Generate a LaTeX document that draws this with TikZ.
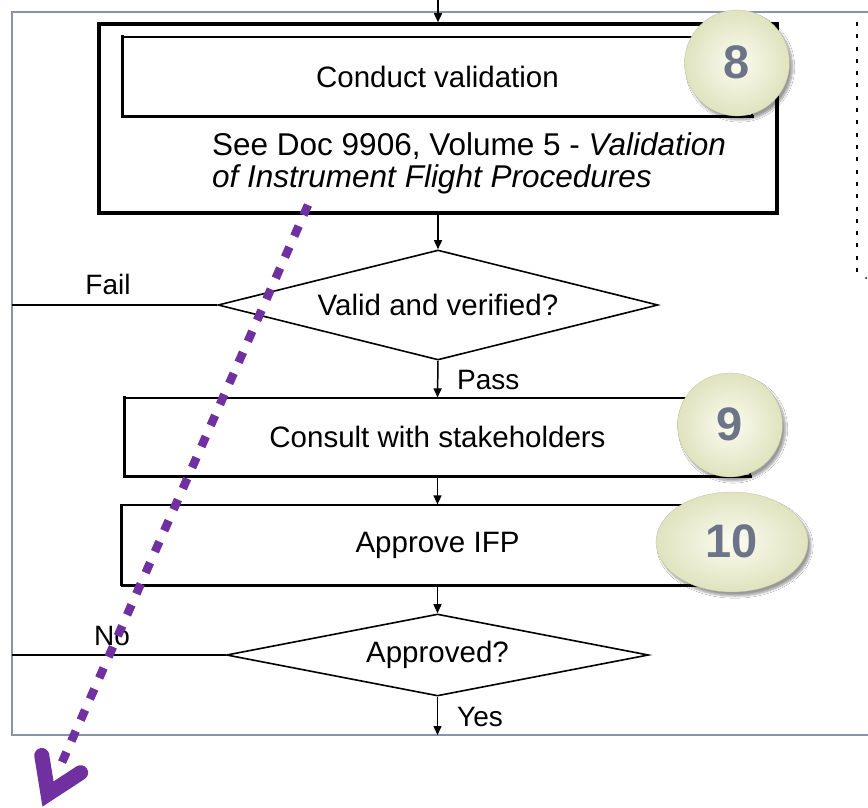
\documentclass[tikz,border=0pt]{standalone}
\usepackage{fontspec}
\setmainfont{Liberation Sans}
\usetikzlibrary{arrows.meta,calc,shapes.geometric,shadows.blur}
\definecolor{framegray}{HTML}{8A92A6}
\definecolor{ifppurple}{HTML}{7030A0}
\definecolor{ballin}{HTML}{FBFCF1}
\definecolor{ballout}{HTML}{DFE3BE}
\definecolor{numgray}{HTML}{6D7488}
\newcommand{\mainsize}{\fontsize{29.5}{33}\selectfont}
\newcommand{\labsize}{\fontsize{28}{32}\selectfont}
\begin{document}
\begin{tikzpicture}[x=1pt,y=-1pt,
  flow/.style={line width=1.5pt,-{Triangle[length=9pt,width=8pt]}},
  plainline/.style={line width=1.5pt},
  stepbox/.style={draw,line width=1.2pt,rectangle,inner sep=0pt,font=\mainsize},
  boxshade/.style={line width=3.5pt,line cap=rect},
  decision/.style={draw,diamond,line width=1.6pt,inner sep=0pt,aspect=4,font=\mainsize},
  lab/.style={font=\labsize,inner sep=0pt},
  numball/.style={ellipse,inner sep=0pt,inner color=ballin,outer color=ballout,
    draw=ballout!85!black,line width=0.3pt,
    blur shadow={shadow xshift=3pt,shadow yshift=-4pt,shadow blur steps=10,shadow opacity=40},
    text=numgray,font=\fontsize{47}{47}\bfseries\selectfont},
  ifparrow/.style={ifppurple,line width=8.5pt,dash pattern=on 11pt off 12pt},
]
\useasboundingbox (0,0) rectangle (868,808);
\clip (0,0) rectangle (868,808);
\fill[white] (0,0) rectangle (868,808);

% surrounding frame (runs past the right edge)
\draw[framegray,line width=2pt] (12,12) rectangle (900,735);

% dotted boundary of the neighbouring column
\draw[line width=2.5pt,dash pattern=on 4pt off 8.3pt] (857,22) -- (857,276);
\fill (866,278) circle (1pt);

% step 8: validation
\node[draw,line width=3.5pt,minimum width=678pt,minimum height=189pt,inner sep=0pt] (valbox) at (438,118.5) {};
\node[stepbox,minimum width=629pt,minimum height=79pt] (conduct) at (437.5,76.5) {Conduct validation};
\draw[boxshade] (conduct.north west) -- (conduct.south west) -- (conduct.south east);
\node[anchor=west,align=left,inner sep=0pt,font=\fontsize{31.5}{32}\selectfont] (docref) at (212,163)
  {See Doc 9906, Volume 5 - \textit{Validation}\\\textit{of Instrument Flight Procedures}};

\coordinate (entry) at (438,0);
\draw[flow] (entry) -- (valbox.north);

% validity check
\node[decision,minimum width=440pt,minimum height=110pt] (valid) at (438,305) {Valid and verified?};
\draw[flow] (valbox.south) -- (valid.north);
\coordinate (failend) at (12,305);
\draw[plainline] (valid.west) -- (failend);
\node[lab] (faillab) at (108,284) {Fail};

% step 9: consultation
\node[stepbox,minimum width=625pt,minimum height=78pt] (consult) at (437.5,437) {Consult with stakeholders};
\draw[boxshade] (consult.north west) -- (consult.south west) -- (consult.south east);
\draw[flow] (valid.south) -- (consult.north);
\node[lab,anchor=west] (passlab) at (457,380) {Pass};

% step 10: approval
\node[stepbox,minimum width=631pt,minimum height=80pt] (approve) at (437.5,545) {Approve IFP};
\draw[line width=3.5pt] (approve.north west) -- (approve.south west);
\draw[line width=2pt] (approve.south west) -- (approve.south east);
\draw[flow] (consult.south) -- (approve.north);

% approval decision
\node[decision,minimum width=422pt,minimum height=82pt] (approved) at (437.5,655) {Approved?};
\draw[flow] (approve.south) -- (approved.north);
\coordinate (noend) at (12,655);
\draw[plainline] (approved.west) -- (noend);
\node[lab] (nolab) at (112,636) {No};
\coordinate (yesend) at (437.5,735);
\draw[flow] (approved.south) -- (yesend);
\node[lab,anchor=west] (yeslab) at (457,717) {Yes};

% step numbers
\node[numball,minimum width=105pt,minimum height=106pt] (n8) at (737,63) {\raisebox{2pt}{8}};
\node[numball,minimum width=105pt,minimum height=104pt] (n9) at (730,425) {\raisebox{2pt}{9}};
\node[numball,minimum width=152pt,minimum height=100pt] (n10) at (732,542) {\raisebox{2pt}{10}};

% dotted purple pointer with a heavy chevron head
\coordinate (pstart) at (308,205);
\coordinate (ptip) at (48,794);
\draw[ifparrow] (pstart) -- ($(ptip)!24pt!(pstart)$);
\draw[ifppurple,line width=15pt,line join=miter,line cap=round]
  ($(ptip)!39pt!33:(pstart)$) -- (ptip) -- ($(ptip)!39pt!-33:(pstart)$);
\end{tikzpicture}
\end{document}
